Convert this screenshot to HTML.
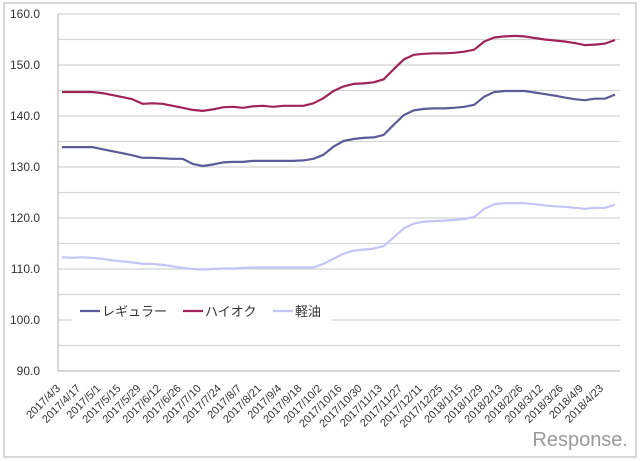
<!DOCTYPE html>
<html><head><meta charset="utf-8"><style>
html,body{margin:0;padding:0;background:#fff;}
svg{display:block;font-family:"Liberation Sans","Noto Sans CJK JP",sans-serif;}
</style></head><body>
<svg id="chart" width="640" height="461" viewBox="0 0 640 461">
<rect x="4" y="3" width="632" height="454" fill="#fff" stroke="#bdbdbd" stroke-width="1.2"/>
<g id="grid"></g>
<line x1="58" y1="14" x2="58" y2="371" stroke="#b0b0b0"/>
<line x1="58" y1="371" x2="620" y2="371" stroke="#b0b0b0"/>
<g id="ylabels"></g>
<g id="xlabels"></g>
<g id="series"></g>
<g>
<rect x="72" y="300" width="260" height="28" fill="#fff"/>
<g><line x1="80" y1="311" x2="100" y2="311" stroke="#5b5b98" stroke-width="2.2"/><text x="102" y="316" font-size="13" fill="#333">レギュラー</text></g>
<g><line x1="183" y1="311" x2="203" y2="311" stroke="#a02458" stroke-width="2.2"/><text x="205" y="316" font-size="13" fill="#333">ハイオク</text></g>
<g><line x1="273" y1="311" x2="293" y2="311" stroke="#c4c4f6" stroke-width="2.2"/><text x="295" y="316" font-size="13" fill="#333">軽油</text></g>
</g>
<text x="628" y="446" text-anchor="end" font-size="20" fill="#9a9a9a">Response.</text>
</svg>
<script>
const dates=["2017/4/3","2017/4/17","2017/5/1","2017/5/15","2017/5/29","2017/6/12","2017/6/26","2017/7/10","2017/7/24","2017/8/7","2017/8/21","2017/9/4","2017/9/18","2017/10/2","2017/10/16","2017/10/30","2017/11/13","2017/11/27","2017/12/11","2017/12/25","2018/1/15","2018/1/29","2018/2/13","2018/2/26","2018/3/12","2018/3/26","2018/4/9","2018/4/23"];
const yTicks=[90,100,110,120,130,140,150,160];
const regular=[133.9,133.9,133.9,133.9,133.5,133.1,132.7,132.3,131.8,131.8,131.7,131.6,131.6,130.6,130.2,130.5,130.9,131.0,131.0,131.2,131.2,131.2,131.2,131.2,131.3,131.6,132.4,134.0,135.1,135.5,135.7,135.8,136.3,138.3,140.2,141.1,141.4,141.5,141.5,141.6,141.8,142.2,143.8,144.7,144.9,144.9,144.9,144.6,144.3,144.0,143.6,143.3,143.1,143.4,143.4,144.2];
const highOctane=[144.7,144.7,144.7,144.7,144.5,144.1,143.7,143.3,142.4,142.5,142.4,142.0,141.6,141.2,141.0,141.3,141.7,141.8,141.6,141.9,142.0,141.8,142.0,142.0,142.0,142.5,143.5,144.9,145.8,146.3,146.4,146.6,147.2,149.2,151.1,152.0,152.2,152.3,152.3,152.4,152.6,153.0,154.6,155.4,155.6,155.7,155.6,155.3,155.0,154.8,154.6,154.3,153.9,154.0,154.2,154.9];
const diesel=[112.3,112.2,112.3,112.2,112.0,111.7,111.5,111.3,111.0,111.0,110.8,110.5,110.2,110.0,109.9,110.0,110.1,110.1,110.2,110.3,110.3,110.3,110.3,110.3,110.3,110.3,111.0,112.0,113.0,113.6,113.8,114.0,114.5,116.2,118.0,118.9,119.3,119.4,119.5,119.6,119.8,120.2,121.8,122.7,122.9,122.9,122.9,122.7,122.5,122.3,122.2,122.0,121.8,122.0,122.0,122.6];
const NS="http://www.w3.org/2000/svg";
const y=v=>371-(v-90)*(357/70);
const x=i=>62+i*(553/(regular.length-1));
const grid=document.getElementById('grid');
for(let v=95;v<=160;v+=5){
  const l=document.createElementNS(NS,'line');
  l.setAttribute('x1',58);l.setAttribute('x2',620);l.setAttribute('y1',y(v));l.setAttribute('y2',y(v));
  l.setAttribute('stroke','#d4d4d4');l.setAttribute('stroke-width','1.2');
  
  
  grid.appendChild(l);
}
const yl=document.getElementById('ylabels');
yTicks.forEach(v=>{
  const t=document.createElementNS(NS,'text');
  t.setAttribute('x',40);t.setAttribute('y',y(v)+4);t.setAttribute('text-anchor','end');
  t.setAttribute('font-size','12');t.setAttribute('fill','#333');
  t.textContent=v.toFixed(1);
  
  
  yl.appendChild(t);
});
const xl=document.getElementById('xlabels');
dates.forEach((d,k)=>{
  const px=x(k*2)-1, py=389;
  const t=document.createElementNS(NS,'text');
  t.setAttribute('x',px);t.setAttribute('y',py);t.setAttribute('text-anchor','end');
  t.setAttribute('font-size','11');t.setAttribute('fill','#333');
  t.setAttribute('transform','rotate(-45 '+px+' '+py+')');
  t.textContent=d;
  
  
  xl.appendChild(t);
});
const sg=document.getElementById('series');
[[diesel,'#c4c4f6','series-diesel'],[regular,'#5b5b98','series-regular'],[highOctane,'#a02458','series-highoctane']].forEach(([arr,c,n])=>{
  const p=document.createElementNS(NS,'polyline');
  p.setAttribute('points',arr.map((v,i)=>x(i).toFixed(1)+','+y(v).toFixed(1)).join(' '));
  p.setAttribute('fill','none');p.setAttribute('stroke',c);p.setAttribute('stroke-width','2.2');p.setAttribute('stroke-linejoin','round');
  
  
  sg.appendChild(p);
});
</script>
</body></html>
